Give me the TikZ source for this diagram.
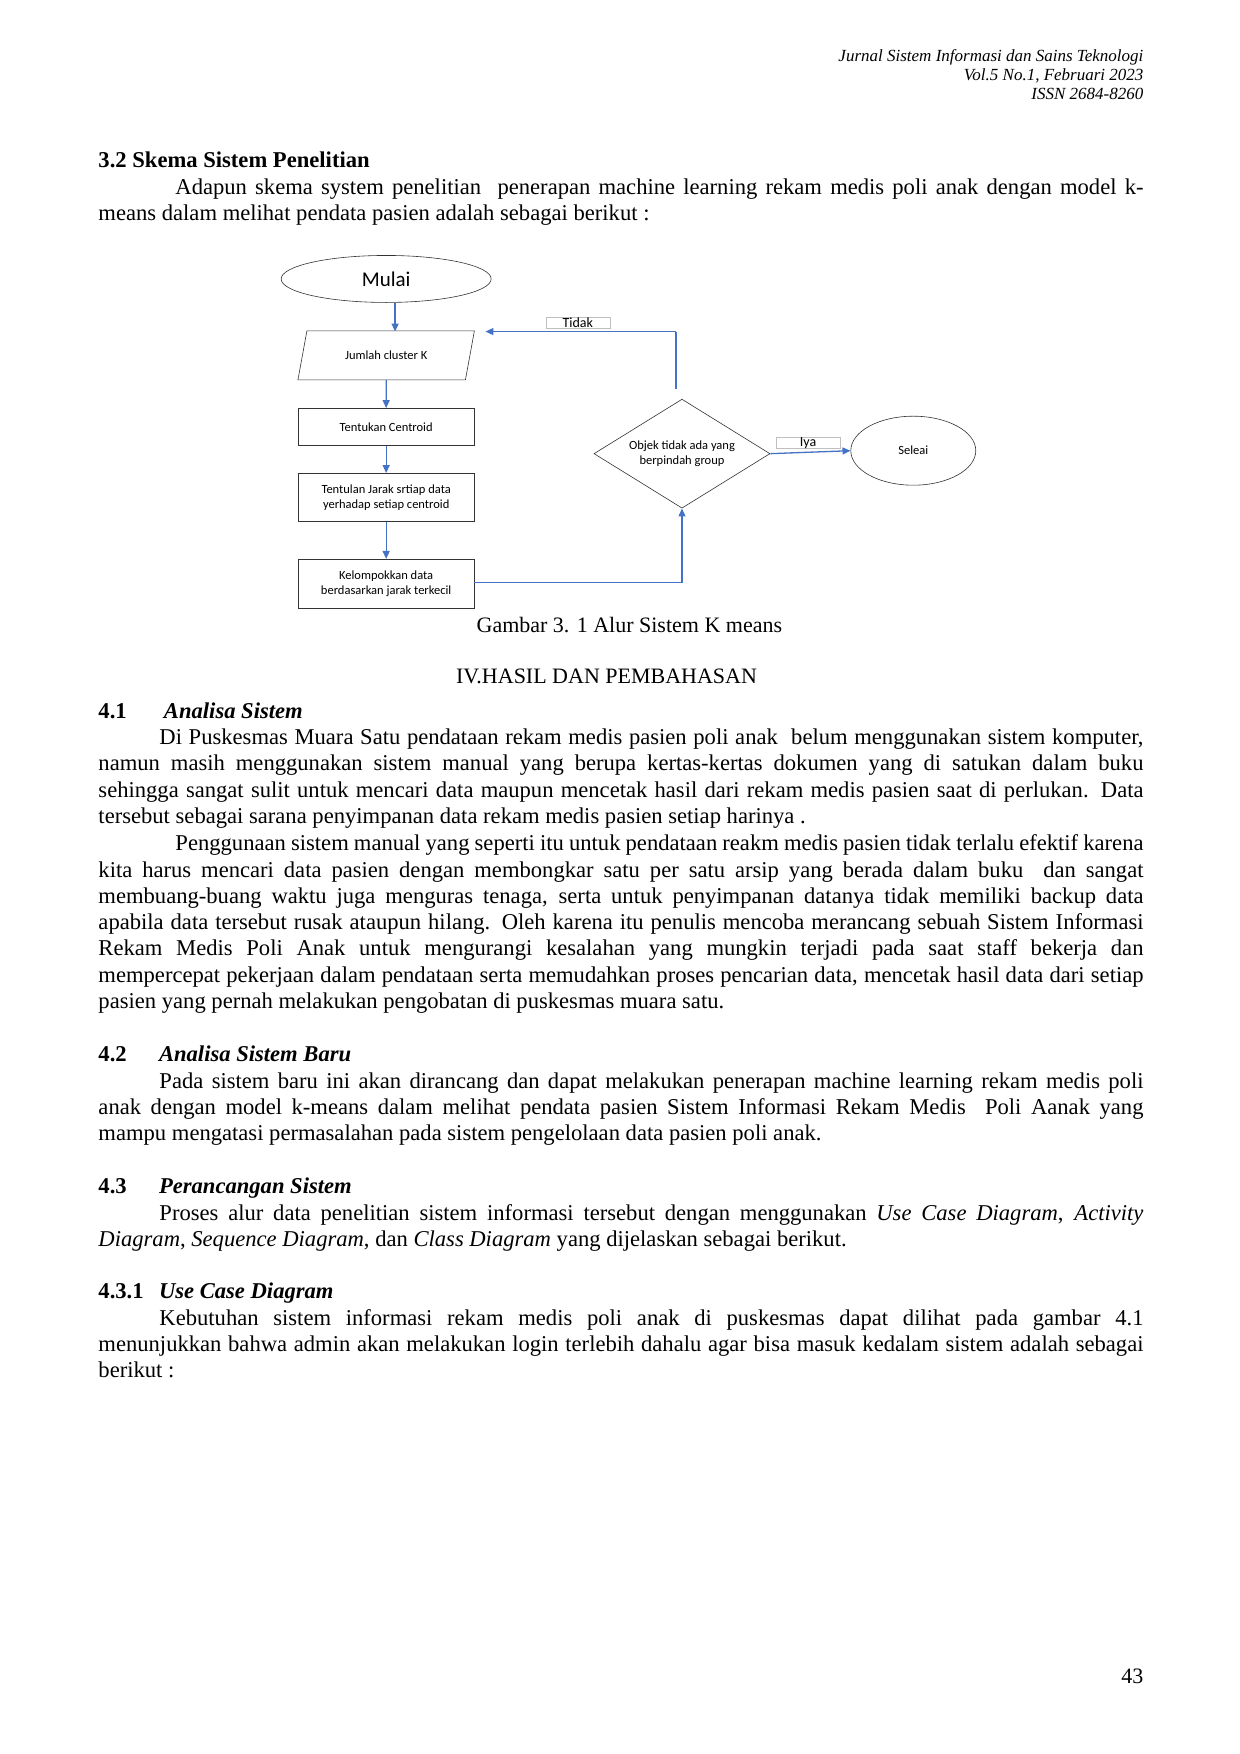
\documentclass[tikz,border=0pt]{standalone}
\usepackage{fontspec}
\setmainfont{Liberation Serif}
\newfontfamily\dia{Carlito}
\usetikzlibrary{shapes.geometric,arrows.meta}
\hyphenpenalty=10000 \exhyphenpenalty=10000
\begin{document}
\begin{tikzpicture}[x=0.9927pt,y=-0.9927pt,
  bf/.style={font=\fontsize{22.6}{26.3}\selectfont},
  body/.style={anchor=base west,text width=1045pt,align=justify,inner sep=0pt,font=\fontsize{22.6}{26.3}\selectfont},
  line/.style={anchor=base west,inner sep=0pt,font=\fontsize{22.6}{26.3}\selectfont},
  box/.style={draw=black!80,line width=0.6pt,inner sep=2pt,align=center,font=\dia\fontsize{12.5}{15}\selectfont},
  conn/.style={draw={rgb,255:red,68;green,114;blue,196},line width=1.3pt},
  arr/.style={conn,-{Triangle[length=8pt,width=7pt]}},
  lab/.style={draw=black!25,line width=0.5pt,inner sep=0pt,minimum width=64pt,minimum height=11pt,font=\dia\fontsize{14}{14}\selectfont}]
\useasboundingbox[fill=white] (0,0) rectangle (1249.1,1766.9);
% header
\node[anchor=base east,inner sep=0pt,font=\itshape\fontsize{17}{19}\selectfont] (h1) at (1152,62) {Jurnal Sistem Informasi dan Sains Teknologi};
\node[anchor=base east,inner sep=0pt,font=\itshape\fontsize{17}{19}\selectfont] (h2) at (1152,81) {Vol.5 No.1, Februari 2023};
\node[anchor=base east,inner sep=0pt,font=\itshape\fontsize{17}{19}\selectfont] (h3) at (1152,100) {ISSN 2684-8260};
% 3.2
\node[line,font=\bfseries\fontsize{22.6}{26.3}\selectfont] (s32) at (99,169) {3.2 Skema Sistem Penelitian};
\node[body] (p32) at (99,196) {\hspace*{77pt}Adapun skema system penelitian\ \ penerapan machine learning rekam medis poli anak dengan model k-\linebreak means dalam melihat pendata pasien adalah sebagai berikut :};
% diagram
\node[draw=black!80,line width=0.6pt,ellipse,minimum width=210pt,minimum height=47pt,font=\dia\fontsize{21}{21}\selectfont] (mulai) at (389,281) {Mulai};
\node[box,trapezium,trapezium left angle=70,trapezium right angle=110,minimum width=177pt,minimum height=49pt,inner xsep=0pt,trapezium stretches=true] (jml) at (389,358) {Jumlah cluster K};
\node[box,minimum width=176pt,minimum height=37pt] (tc) at (389,430) {Tentukan Centroid};
\node[box,minimum width=176pt,minimum height=48pt] (tj) at (389,501) {Tentulan Jarak srtiap data\\yerhadap setiap centroid};
\node[box,minimum width=176pt,minimum height=49pt] (kd) at (389,588) {Kelompokkan data\\berdasarkan jarak terkecil};
\node[box,diamond,aspect=1.6,minimum width=176pt,minimum height=109pt,inner sep=0pt] (dm) at (687,457) {Objek tidak ada yang\\berpindah group};
\node[box,ellipse,minimum width=125pt,minimum height=69pt] (sel) at (920,454) {Seleai};
\coordinate (t1) at (681,392);
\coordinate (t2) at (681,334);
\coordinate (t3) at (489,334);
\coordinate (k1) at (687,587);
\draw[arr] (mulai.south -| 398,0) -- (398,334);
\draw[arr] (jml.south) -- (tc.north);
\draw[arr] (tc.south) -- (tj.north);
\draw[arr] (tj.south) -- (kd.north);
\draw[conn] (t1) -- (t2);
\draw[arr] (t2) -- (t3);
\draw[arr] (kd.east |- k1) -- (k1) -- (dm.south);
\draw[arr] (dm.east) -- (sel.west);
\node[lab] (tidak) at (582,325) {Tidak};
\node[lab] (iya) at (814,446) {Iya};
\node[anchor=base,inner sep=0pt,font=\fontsize{22}{24}\selectfont] (cap) at (634,637) {Gambar 3. 1 Alur Sistem K means};
\node[anchor=base,inner sep=0pt,font=\fontsize{22}{24}\selectfont] (iv) at (611,689) {IV.HASIL DAN PEMBAHASAN};
% 4.1
\node[line,font=\bfseries\fontsize{22.6}{26.3}\selectfont] (n41) at (99,724) {4.1};
\node[line,font=\bfseries\itshape\fontsize{22.6}{26.3}\selectfont] (t41) at (165,724) {Analisa Sistem};
\node[body] (p41) at (99,750) {\hspace*{61pt}Di Puskesmas Muara Satu pendataan rekam medis pasien poli anak\ \ belum menggunakan sistem komputer,\linebreak namun masih menggunakan sistem manual yang berupa kertas-kertas dokumen yang di satukan dalam buku\linebreak sehingga sangat sulit untuk mencari data maupun mencetak hasil dari rekam medis pasien saat di perlukan. Data\linebreak tersebut sebagai sarana penyimpanan data rekam medis pasien setiap harinya .};
\node[body] (p41b) at (99,857) {\hspace*{77pt}Penggunaan sistem manual yang seperti itu untuk pendataan reakm medis pasien tidak terlalu efektif karena\linebreak kita harus mencari data pasien dengan membongkar satu per satu arsip yang berada dalam buku\ \ dan sangat\linebreak membuang-buang waktu juga menguras tenaga, serta untuk penyimpanan datanya tidak memiliki backup data\linebreak apabila data tersebut rusak ataupun hilang. Oleh karena itu penulis mencoba merancang sebuah Sistem Informasi\linebreak Rekam Medis Poli Anak untuk mengurangi kesalahan yang mungkin terjadi pada saat staff bekerja dan\linebreak mempercepat pekerjaan dalam pendataan serta memudahkan proses pencarian data, mencetak hasil data dari setiap\linebreak pasien yang pernah melakukan pengobatan di puskesmas muara satu.};
% 4.2
\node[line,font=\bfseries\fontsize{22.6}{26.3}\selectfont] (n42) at (99,1069) {4.2};
\node[line,font=\bfseries\itshape\fontsize{22.6}{26.3}\selectfont] (t42) at (160,1069) {Analisa Sistem Baru};
\node[body] (p42) at (99,1096) {\hspace*{61pt}Pada sistem baru ini akan dirancang dan dapat melakukan penerapan machine learning rekam medis poli\linebreak anak dengan model k-means dalam melihat pendata pasien Sistem Informasi Rekam Medis\ \ Poli Aanak yang\linebreak mampu mengatasi permasalahan pada sistem pengelolaan data pasien poli anak.};
% 4.3
\node[line,font=\bfseries\fontsize{22.6}{26.3}\selectfont] (n43) at (99,1202) {4.3};
\node[line,font=\bfseries\itshape\fontsize{22.6}{26.3}\selectfont] (t43) at (160,1202) {Perancangan Sistem};
\node[body] (p43) at (99,1229) {\hspace*{61pt}Proses alur data penelitian sistem informasi tersebut dengan menggunakan \textit{Use Case Diagram}, \textit{Activity}\linebreak \textit{Diagram}, \textit{Sequence Diagram}, dan \textit{Class Diagram} yang dijelaskan sebagai berikut.};
% 4.3.1
\node[line,font=\bfseries\fontsize{22.6}{26.3}\selectfont] (n431) at (99,1308) {4.3.1};
\node[line,font=\bfseries\itshape\fontsize{22.6}{26.3}\selectfont] (t431) at (160,1308) {Use Case Diagram};
\node[body] (p431) at (99,1335) {\hspace*{61pt}Kebutuhan sistem informasi rekam medis poli anak di puskesmas dapat dilihat pada gambar 4.1\linebreak menunjukkan bahwa admin akan melakukan login terlebih dahalu agar bisa masuk kedalam sistem adalah sebagai\linebreak berikut :};
\node[anchor=base east,inner sep=0pt,font=\fontsize{22}{24}\selectfont] (pg) at (1152,1696) {43};
\end{tikzpicture}
\end{document}
